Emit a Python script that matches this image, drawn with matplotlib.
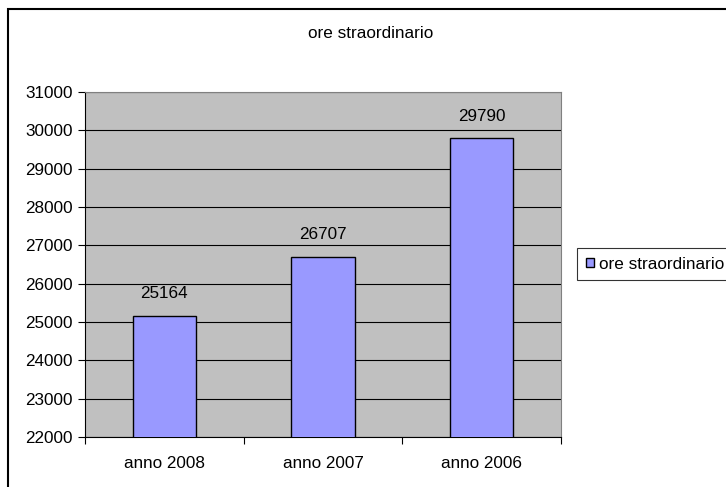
import matplotlib
matplotlib.use("Agg")
import matplotlib.pyplot as plt
from matplotlib.patches import Rectangle

categories = ["anno 2008", "anno 2007", "anno 2006"]
values = [25164, 26707, 29790]
series_name = "ore straordinario"
yticks = [22000, 23000, 24000, 25000, 26000, 27000, 28000, 29000, 30000, 31000]

plt.rcParams['font.family'] = ['Liberation Sans', 'DejaVu Sans']
FS = 12.3

W, H = 726, 487
fig = plt.figure(figsize=(W / 100, H / 100), dpi=100)
fig.patch.set_facecolor('white')

# outer chart frame (extends beyond right/bottom of the image)
fig.add_artist(Rectangle((7.5 / W, -0.1), 1.2, 1 - 8.5 / H + 0.1, transform=fig.transFigure,
                         fill=False, edgecolor='black', linewidth=1.5))

ax = fig.add_axes([85 / W, 1 - 437 / H, (561 - 85) / W, (437 - 92) / H])
ax.set_facecolor('#C0C0C0')
x = range(len(categories))
bars = ax.bar(x, values, width=0.4, color='#9999FF', edgecolor='black', linewidth=1.0,
              label=series_name, zorder=3)
ax.set_ylim(22000, 31000)
ax.set_xlim(-0.5, len(categories) - 0.5)
ax.set_yticks(yticks)
ax.set_yticklabels([str(v) for v in yticks], fontsize=FS)
ax.yaxis.grid(True, color='black', linewidth=0.8, zorder=1)
ax.set_axisbelow(True)

ax.set_xticks([i for i in x])
ax.set_xticklabels(categories, fontsize=FS)
ax.tick_params(axis='x', length=0, pad=13.5)
ax.set_xticks([i - 0.5 for i in range(len(categories) + 1)], minor=True)
ax.tick_params(axis='x', which='minor', length=5, width=0.8, color='black', direction='out')
ax.tick_params(axis='y', length=5, width=0.8, direction='out', pad=4)

for s in ['top', 'right']:
    ax.spines[s].set_color('#808080')
    ax.spines[s].set_linewidth(0.8)
for s in ['left', 'bottom']:
    ax.spines[s].set_color('black')
    ax.spines[s].set_linewidth(0.8)

for b, v in zip(bars, values):
    ax.annotate(str(v), (b.get_x() + b.get_width() / 2, v), xytext=(0, 16),
                textcoords='offset points', ha='center', va='center', fontsize=FS)

fig.text(371 / W, 1 - 33 / H, series_name, ha='center', va='center', fontsize=FS)

leg = fig.legend(handles=[bars], labels=[series_name], loc='upper left',
                 bbox_to_anchor=(577 / W, 1 - 248 / H), bbox_transform=fig.transFigure,
                 fontsize=FS, frameon=True, fancybox=False, edgecolor='black',
                 handlelength=0.5, handleheight=0.5, handletextpad=0.3,
                 borderpad=0.5, borderaxespad=0)
leg.get_frame().set_linewidth(0.8)

fig.savefig('out.png', dpi=100)
